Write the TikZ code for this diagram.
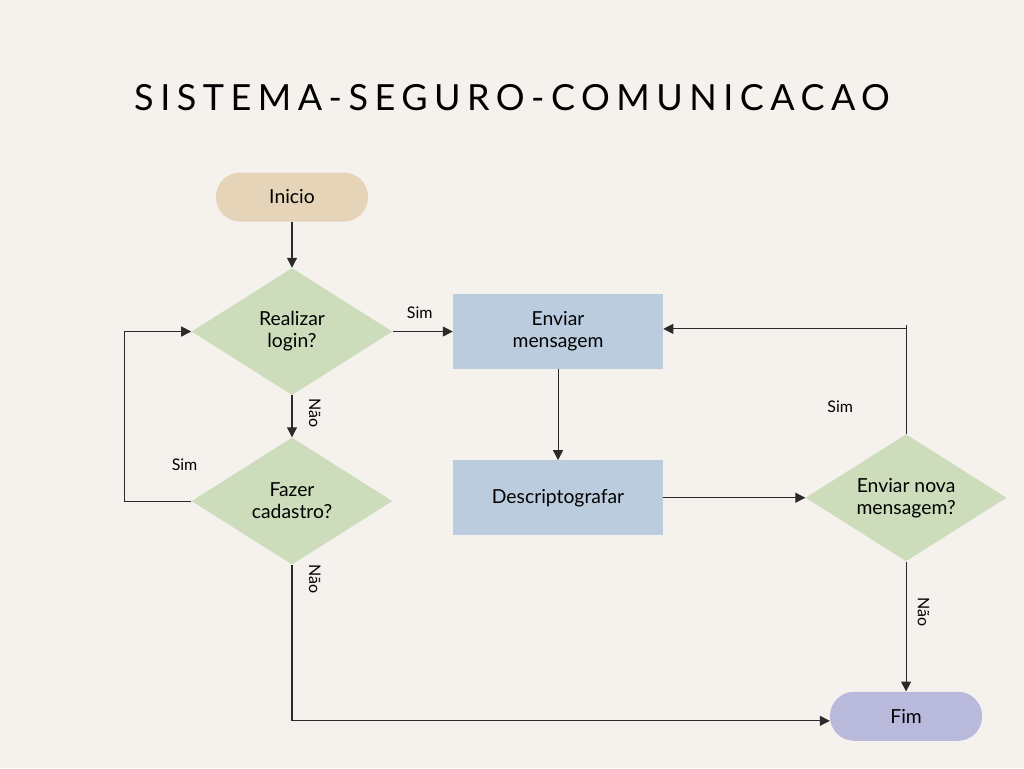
\documentclass[tikz,border=0pt]{standalone}
\usepackage{fontspec}
\setmainfont{Lato}
\newfontfamily\titlefont[LetterSpace=18]{Lato}
\usepackage{tikz}
\usetikzlibrary{arrows.meta,positioning,shapes.geometric}
\definecolor{pageBg}{HTML}{F5F2EE}
\definecolor{startTan}{HTML}{E5D4B8}
\definecolor{askGreen}{HTML}{CDDDBB}
\definecolor{taskBlue}{HTML}{BBCCDF}
\definecolor{endLilac}{HTML}{B9B9DC}
\definecolor{lineGray}{HTML}{2A2A2A}

\begin{document}
\begin{tikzpicture}[
  every node/.style={font=\fontsize{14.5}{16.5}\selectfont, text=black},
  term/.style={rounded corners=18pt, minimum width=114pt, minimum height=36.75pt, inner sep=0pt},
  ask/.style={diamond, aspect=1.58, fill=askGreen, minimum width=150.75pt, minimum height=95.25pt, inner sep=0pt, align=center},
  task/.style={fill=taskBlue, minimum width=157.5pt, minimum height=56pt, inner sep=0pt, align=center},
  lbl/.style={font=\fontsize{12}{14}\selectfont},
  nao/.style={lbl, anchor=south, rotate=-90},
  arr/.style={-{Triangle[length=7.5pt,width=7.5pt]}, draw=lineGray, line width=0.8pt},
  lin/.style={draw=lineGray, line width=0.8pt}
]
\fill[pageBg] (0,0) rectangle (768pt,-576pt);
\useasboundingbox (0,0) rectangle (768pt,-576pt);

% Title
\node[font=\titlefont\fontsize{27}{32}\selectfont] (title) at (384pt,-73.5pt) {SISTEMA-SEGURO-COMUNICACAO};

% Left column
\node[term, fill=startTan] (inicio) at (219pt,-147.75pt) {Inicio};
\node[ask, below=34.5pt of inicio] (login) {Realizar\\login?};
\node[ask, below=31.5pt of login] (cadastro) {Fazer\\cadastro?};

% Middle column
\node[task, right=45pt of login] (enviar) {Enviar\\mensagem};
\node[task, below=68.25pt of enviar] (decifra) {Descriptografar};

% Right column
\node[ask, right=106.5pt of decifra] (nova) {Enviar nova\\mensagem?};
\node[term, fill=endLilac, below=97.5pt of nova] (fim) {Fim};

% Connectors
\draw[arr] (inicio) -- (login);
\draw[arr] (login) -- node[lbl, above=6pt, pos=0.45] {Sim} (enviar);
\draw[arr] (login) -- node[nao, yshift=9pt, pos=0.43] {Não} (cadastro);
\draw[arr] (cadastro.west) -- node[lbl, pos=0.1, above=19pt] {Sim} ++(-50pt,0) |- (login.west);
\draw[arr] (cadastro.south) -- node[nao, yshift=9pt, pos=0.09] {Não} ++(0,-117pt) coordinate (cantoFim) -- (fim.west |- cantoFim);
\draw[arr] (enviar) -- (decifra);
\draw[arr] (decifra) -- (nova);
\draw[lin] (nova.north) -- node[lbl, pos=0.25, left=36pt] {Sim} ++(0,82pt) coordinate (topoNova);
\draw[arr] (nova.north |- enviar.east) ++(0,2pt) coordinate (voltaNova) -- (enviar.east |- voltaNova);
\draw[arr] (nova) -- node[nao, yshift=5pt, pos=0.39] {Não} (fim);
\end{tikzpicture}
\end{document}
